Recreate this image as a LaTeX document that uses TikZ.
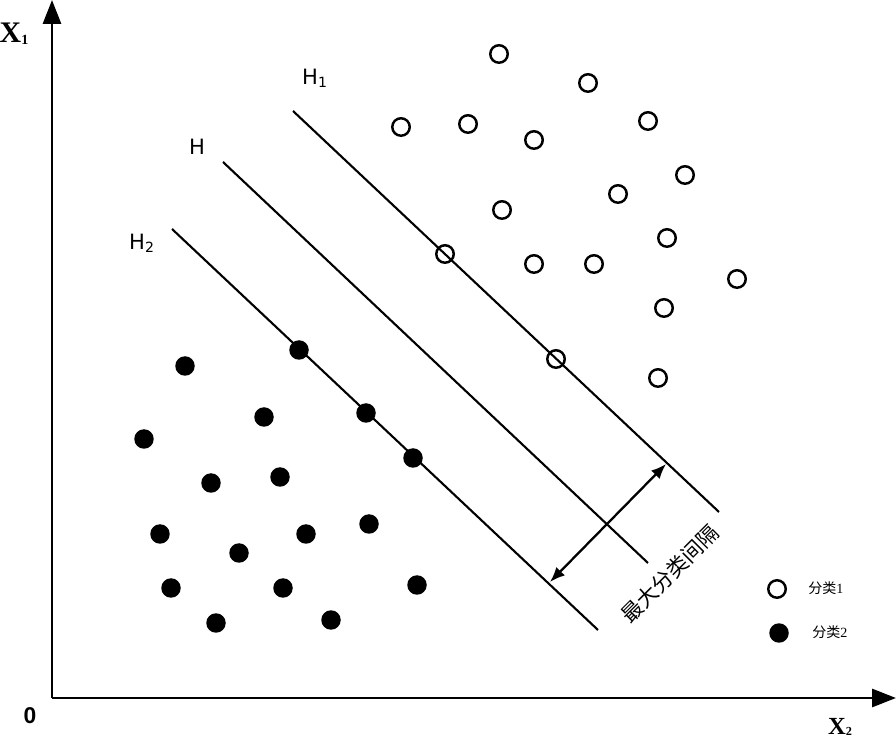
\documentclass[tikz,border=0pt]{standalone}
\usepackage{fontspec}
\setmainfont{Liberation Serif}
\newfontfamily\cjk{Noto Sans CJK SC}
\newfontfamily\hfont{DejaVu Sans}
\newfontfamily\zerofont{Liberation Sans}
\usetikzlibrary{arrows.meta}

\begin{document}
\begin{tikzpicture}[x=0.02cm, y=-0.02cm,
    cls1/.style={circle, draw, line width=1.4pt, inner sep=0pt, minimum size=0.35cm},
    cls2/.style={circle, fill, inner sep=0pt, minimum size=0.39cm},
    hyper/.style={line width=1.2pt},
    axis/.style={line width=1.7pt, -{Triangle[length=0.48cm, width=0.36cm]}},
    hlabel/.style={font=\hfont\fontsize{12}{14}\selectfont}]
  \useasboundingbox (0, 0) rectangle (896, 742);

  % axes
  \coordinate (o) at (52, 698);
  \coordinate (ytip) at (52, 0);
  \coordinate (xtip) at (896, 698);
  \draw[axis] (o) -- (ytip);
  \draw[axis] (o) -- (xtip);
  \node (xone) at (14, 34) {\fontsize{17}{17}\selectfont\bfseries X\raisebox{-1pt}{\fontsize{8}{8}\selectfont 1}};
  \node (xtwo) at (840, 727) {\fontsize{14}{14}\selectfont\bfseries X\raisebox{-1pt}{\fontsize{7}{7}\selectfont 2}};
  \node (zero) at (30, 716) {\zerofont\fontsize{13}{13}\selectfont\bfseries 0};

  % hyperplanes
  \coordinate (h1a) at (293, 111);
  \coordinate (h1b) at (719, 512);
  \coordinate (ha) at (223, 162);
  \coordinate (hb) at (648, 563);
  \coordinate (h2a) at (172, 229);
  \coordinate (h2b) at (598, 630);
  \draw[hyper] (h1a) -- (h1b);
  \draw[hyper] (ha) -- (hb);
  \draw[hyper] (h2a) -- (h2b);
  \node (lh1) at (315, 78) [hlabel] {H\textsubscript{\hfont 1}};
  \node (lh) at (197, 147) [hlabel] {H};
  \node (lh2) at (142, 243) [hlabel] {H\textsubscript{\hfont 2}};

  % margin
  \coordinate (m2) at (550, 582);
  \coordinate (m1) at (666, 464);
  \draw[line width=1.3pt, {Latex[length=0.3cm, width=0.24cm]}-{Latex[length=0.3cm, width=0.24cm]}] (m2) -- (m1);
  \node (gap) at (670, 574) [rotate=45, inner sep=1pt, font=\cjk\fontsize{12}{14}\selectfont] {最大分类间隔};

  % class 1
  \node (c1) at (499, 54) [cls1] {};
  \node (c2) at (588, 83) [cls1] {};
  \node (c3) at (401, 127) [cls1] {};
  \node (c4) at (468, 124) [cls1] {};
  \node (c5) at (534, 140) [cls1] {};
  \node (c6) at (648, 121) [cls1] {};
  \node (c7) at (685, 175) [cls1] {};
  \node (c8) at (618, 194) [cls1] {};
  \node (c9) at (502, 210) [cls1] {};
  \node (c10) at (667, 238) [cls1] {};
  \node (c11) at (445, 254) [cls1] {};
  \node (c12) at (534, 264) [cls1] {};
  \node (c13) at (594, 264) [cls1] {};
  \node (c14) at (737, 279) [cls1] {};
  \node (c15) at (664, 308) [cls1] {};
  \node (c16) at (556, 359) [cls1] {};
  \node (c17) at (658, 378) [cls1] {};

  % class 2
  \node (d1) at (299, 350) [cls2] {};
  \node (d2) at (185, 366) [cls2] {};
  \node (d3) at (366, 413) [cls2] {};
  \node (d4) at (264, 417) [cls2] {};
  \node (d5) at (144, 439) [cls2] {};
  \node (d6) at (413, 458) [cls2] {};
  \node (d7) at (280, 477) [cls2] {};
  \node (d8) at (211, 483) [cls2] {};
  \node (d9) at (369, 524) [cls2] {};
  \node (d10) at (160, 534) [cls2] {};
  \node (d11) at (306, 534) [cls2] {};
  \node (d12) at (239, 553) [cls2] {};
  \node (d13) at (417, 585) [cls2] {};
  \node (d14) at (171, 588) [cls2] {};
  \node (d15) at (283, 588) [cls2] {};
  \node (d16) at (216, 623) [cls2] {};
  \node (d17) at (331, 620) [cls2] {};

  % legend
  \node (k1) at (777, 589) [cls1] {};
  \node (k2) at (779, 633) [cls2] {};
  \node (t1) at (808, 588) [anchor=west, inner sep=0pt] {\fontsize{8}{9}\selectfont{\cjk 分类}1};
  \node (t2) at (812, 632) [anchor=west, inner sep=0pt] {\fontsize{8}{9}\selectfont{\cjk 分类}2};
\end{tikzpicture}
\end{document}
